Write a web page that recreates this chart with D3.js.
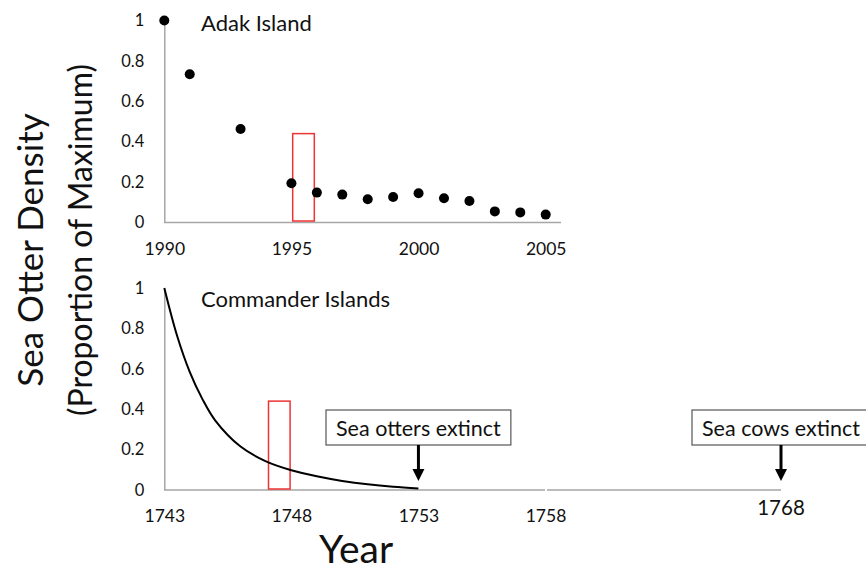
<!DOCTYPE html>
<html>
<head>
<meta charset="utf-8">
<script src="https://cdn.jsdelivr.net/npm/d3@7"></script>
<style>
  body { margin: 0; background: #fff; }
  text { font-family: Lato, "Open Sans", sans-serif; fill: #111; }
</style>
</head>
<body>
<svg id="chart" width="866" height="572"></svg>
<script>
// Adak Island survey points
const adakYears = [1990, 1991, 1993, 1995, 1996, 1997, 1998, 1999, 2000, 2001, 2002, 2003, 2004, 2005];
const adakDensity = [1.0, 0.734, 0.463, 0.194, 0.148, 0.138, 0.115, 0.126, 0.145, 0.12, 0.106, 0.055, 0.05, 0.039];
const adakTicks = [1990, 1995, 2000, 2005];

// Commander Islands decline curve
const cmdYears = [1743, 1743.5, 1744, 1744.5, 1745, 1746, 1747, 1748, 1749, 1750, 1751, 1752, 1753];
const cmdDensity = [1.0, 0.765, 0.585, 0.45, 0.345, 0.215, 0.142, 0.098, 0.068, 0.045, 0.028, 0.016, 0.008];
const cmdTicks = [1743, 1748, 1753, 1758];
const cmdBigTick = 1768;

const yTicks = [0, 0.2, 0.4, 0.6, 0.8, 1];

// red boxes marking the same stage of decline
const adakBox = { x0: 1995.05, x1: 1995.9, top: 0.44 };
const cmdBox = { x0: 1747.1, x1: 1747.95, top: 0.44 };

// extinction notes
const notes = [
  { year: 1753, label: "Sea otters extinct" },
  { year: 1768, label: "Sea cows extinct" }
];

const svg = d3.select("#chart");
const axisColor = "#a6a6a6";

// scales
const xTop = d3.scaleLinear().domain([1990, 2005]).range([164.3, 545.7]);
const yTop = d3.scaleLinear().domain([0, 1]).range([222.5, 20.5]);
// bottom axis is broken after 1758, so the last stretch is squeezed
const xBot = d3.scaleLinear().domain([1743, 1758, 1768]).range([164.3, 545.5, 781]);
const yBot = d3.scaleLinear().domain([0, 1]).range([490, 288]);

function styleAxis(g, size) {
  g.selectAll("text")
    .style("font-size", size + "px")
    .style("font-family", "Lato, sans-serif")
    .attr("fill", "#111");
}

// ---------- top panel ----------
const topG = svg.append("g");

topG.append("g")
  .attr("transform", `translate(${xTop(1990)},0)`)
  .call(d3.axisLeft(yTop).tickValues(yTicks).tickSize(0).tickPadding(20).tickFormat(d3.format("~g")))
  .call(g => g.select(".domain").attr("stroke", axisColor).attr("stroke-width", 1.5))
  .call(g => styleAxis(g, 16.5));

topG.append("g")
  .attr("transform", `translate(0,${yTop(0)})`)
  .call(d3.axisBottom(xTop).tickValues(adakTicks).tickSize(0).tickPadding(20).tickFormat(d3.format("d")))
  .call(g => g.select(".domain").remove())
  .call(g => styleAxis(g, 17.5));

topG.append("line")
  .attr("x1", xTop(1990)).attr("x2", xTop(2005.6))
  .attr("y1", yTop(0)).attr("y2", yTop(0))
  .attr("stroke", axisColor).attr("stroke-width", 1.5);

topG.append("rect")
  .attr("x", xTop(adakBox.x0))
  .attr("y", yTop(adakBox.top))
  .attr("width", xTop(adakBox.x1) - xTop(adakBox.x0))
  .attr("height", yTop(0) - yTop(adakBox.top) - 1.5)
  .attr("fill", "none")
  .attr("stroke", "#ee3333")
  .attr("stroke-width", 1.5);

topG.selectAll("circle")
  .data(adakYears)
  .enter()
  .append("circle")
  .attr("cx", d => xTop(d))
  .attr("cy", (d, i) => yTop(adakDensity[i]))
  .attr("r", 5)
  .attr("fill", "#000");

topG.append("text")
  .attr("x", 201)
  .attr("y", 31)
  .style("font-size", "22px")
  .text("Adak Island");

// ---------- bottom panel ----------
const botG = svg.append("g");

botG.append("g")
  .attr("transform", `translate(${xBot(1743)},0)`)
  .call(d3.axisLeft(yBot).tickValues(yTicks).tickSize(0).tickPadding(20).tickFormat(d3.format("~g")))
  .call(g => g.select(".domain").attr("stroke", axisColor).attr("stroke-width", 1.5))
  .call(g => styleAxis(g, 16.5));

botG.append("g")
  .attr("transform", `translate(0,${yBot(0)})`)
  .call(d3.axisBottom(xBot).tickValues(cmdTicks).tickSize(0).tickPadding(20).tickFormat(d3.format("d")))
  .call(g => g.select(".domain").remove())
  .call(g => styleAxis(g, 17.5));

// 1768 label is set larger and a little higher
botG.append("text")
  .attr("x", xBot(cmdBigTick))
  .attr("y", yBot(0) + 25)
  .attr("text-anchor", "middle")
  .style("font-size", "20.5px")
  .text(cmdBigTick);

// broken x axis line
const segs = [[xBot(1743), xBot(1758) - 0.5], [xBot(1758) + 1.5, xBot(1768)]];
botG.selectAll("line.seg")
  .data(segs)
  .enter()
  .append("line")
  .attr("class", "seg")
  .attr("x1", d => d[0]).attr("x2", d => d[1])
  .attr("y1", yBot(0)).attr("y2", yBot(0))
  .attr("stroke", axisColor).attr("stroke-width", 1.5);

botG.append("rect")
  .attr("x", xBot(cmdBox.x0))
  .attr("y", yBot(cmdBox.top))
  .attr("width", xBot(cmdBox.x1) - xBot(cmdBox.x0))
  .attr("height", yBot(0) - yBot(cmdBox.top) - 1)
  .attr("fill", "none")
  .attr("stroke", "#ee3333")
  .attr("stroke-width", 1.5);

const line = d3.line()
  .x((d, i) => xBot(d))
  .y((d, i) => yBot(cmdDensity[i]))
  .curve(d3.curveCatmullRom.alpha(0.5));

botG.append("path")
  .datum(cmdYears)
  .attr("d", line)
  .attr("fill", "none")
  .attr("stroke", "#000")
  .attr("stroke-width", 2);

botG.append("text")
  .attr("x", 201)
  .attr("y", 306.5)
  .style("font-size", "22px")
  .text("Commander Islands");

// extinction boxes + arrows
const boxTop = 410, boxH = 35, arrowTip = 481;
notes.forEach(n => {
  const cx = xBot(n.year);
  const ng = botG.append("g");
  const rect = ng.append("rect");
  const t = ng.append("text")
    .attr("x", cx)
    .attr("y", boxTop + 25.5)
    .attr("text-anchor", "middle")
    .style("font-size", "21.5px")
    .text(n.label);
  const w = t.node().getComputedTextLength() + 20;
  rect.attr("x", cx - w / 2)
    .attr("y", boxTop)
    .attr("width", w)
    .attr("height", boxH)
    .attr("fill", "#fff")
    .attr("stroke", "#555")
    .attr("stroke-width", 1.2);
  ng.append("line")
    .attr("x1", cx).attr("x2", cx)
    .attr("y1", boxTop + boxH).attr("y2", arrowTip - 10)
    .attr("stroke", "#000").attr("stroke-width", 3);
  ng.append("path")
    .attr("d", `M${cx - 6},${arrowTip - 12}L${cx + 6},${arrowTip - 12}L${cx},${arrowTip}Z`)
    .attr("fill", "#000");
});

// ---------- axis titles ----------
svg.append("text")
  .attr("transform", "translate(43,250) rotate(-90)")
  .attr("text-anchor", "middle")
  .style("font-size", "35px")
  .text("Sea Otter Density");

svg.append("text")
  .attr("transform", "translate(92,240) rotate(-90)")
  .attr("text-anchor", "middle")
  .style("font-size", "32px")
  .text("(Proportion of Maximum)");

svg.append("text")
  .attr("x", 356)
  .attr("y", 563)
  .attr("text-anchor", "middle")
  .style("font-size", "39px")
  .text("Year");
</script>
</body>
</html>
